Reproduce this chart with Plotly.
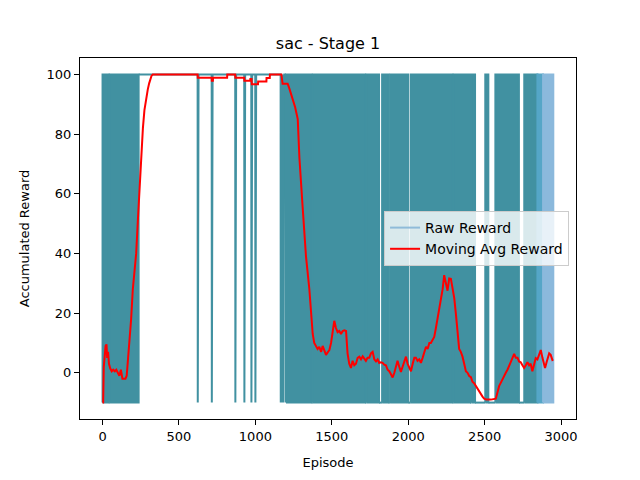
import plotly.graph_objects as go

n_episodes = 2950

# stretches where the raw reward flips between 100 and -10 so often that
# the line reads as a solid band in the picture
mixed_spans = [(0, 40), (47, 236), (1200, 1367), (1376, 1718), (1726, 1809),
               (1829, 1870), (1881, 2001), (2018, 2289), (2297, 2404),
               (2417, 2437), (2504, 2524), (2570, 2724), (2759, 2949)]
# the solved stretch (reward 100) and the few failed episodes inside it
success_run = (237, 1199)
failed_eps = [623, 715, 869, 928, 974, 1000, 1166, 1172, 1178, 1184]

# moving average (window 100)
ma_ep = [0, 4, 8, 14, 20, 26, 30, 36, 42, 50, 60, 70, 80, 90, 100, 110, 120,
         130, 140, 150, 158, 165, 176, 187, 198, 210, 220, 232, 242, 253, 264,
         274, 285, 296, 305, 312, 320, 329, 622, 623, 714, 715, 722, 723, 815,
         816, 868, 869, 927, 928, 966, 967, 975, 976, 1017, 1018, 1072, 1073,
         1094, 1095, 1170, 1178, 1211, 1222, 1244, 1260, 1277, 1288, 1309,
         1331, 1353, 1364, 1375, 1385, 1397, 1407, 1418, 1430, 1440, 1452,
         1462, 1475, 1484, 1495, 1505, 1516, 1527, 1538, 1549, 1560, 1571,
         1582, 1593, 1603, 1614, 1625, 1636, 1647, 1658, 1669, 1680, 1691,
         1702, 1712, 1723, 1734, 1745, 1756, 1767, 1778, 1789, 1800, 1810,
         1821, 1832, 1843, 1854, 1865, 1876, 1887, 1898, 1909, 1920, 1930,
         1941, 1952, 1963, 1974, 1985, 1996, 2007, 2018, 2029, 2040, 2050,
         2061, 2072, 2083, 2094, 2105, 2116, 2127, 2138, 2148, 2159, 2170,
         2181, 2192, 2203, 2214, 2225, 2235, 2246, 2257, 2268, 2279, 2290,
         2301, 2312, 2322, 2333, 2344, 2355, 2366, 2377, 2388, 2399, 2410,
         2420, 2431, 2442, 2453, 2464, 2475, 2486, 2497, 2510, 2540, 2573,
         2584, 2595, 2606, 2617, 2628, 2638, 2650, 2661, 2672, 2682, 2693,
         2704, 2715, 2725, 2736, 2747, 2758, 2769, 2780, 2791, 2801, 2812,
         2823, 2834, 2845, 2856, 2867, 2878, 2889, 2895, 2905, 2913, 2922,
         2932, 2943, 2949]
ma_val = [-10, -10, 2, 6, 9, 9.5, 5, 7, 3, 1.5, 0.5, 1, 0.5, 1, 0, -1, 1,
          -2, -2, -2, -1, 3, 9, 18, 28, 34, 40, 52, 63, 72, 82,
          88, 92, 95, 97, 98.6, 99.5, 100, 100, 98.9, 98.9, 97.9, 97.9, 98.9, 98.9,
          100, 100, 98.9, 98.9, 97.9, 97.9, 98.5, 98.5, 96.7, 96.7, 97.6, 97.6, 98.8,
          98.8, 100, 100, 96.9, 96.9, 95.3, 92, 89, 85, 72, 55.6,
          39, 28, 19.6, 13, 10, 8.7, 8, 8.7, 7, 9, 7,
          6, 7, 7.6, 10, 14, 17.4, 15, 13.6, 14, 13, 14,
          14.2, 14, 6.5, 3, 1.6, 4, 2.5, 3, 5, 5.4, 4.5,
          5.5, 4.9, 4, 5, 5, 6.5, 7, 4.5, 3.8, 4.5, 3.3,
          3.5, 3.3, 2.7, 2.5, 1, 0.5, -0.5, -1.6, 0, 2, 4,
          2, 0.3, 2, 4, 5.4, 3, 1.5, 0.5, 3, 5, 5,
          4, 4.5, 3.3, 5, 7, 8.7, 8, 10, 10, 11, 12,
          15, 18.5, 21, 24, 28, 32.7, 30, 27.5, 31.6, 31.5, 28.3,
          25, 19.6, 14.2, 8, 7, 5.4, 3, 0.5, 0, -1.1, -1.5,
          -3, -3.5, -4.5, -5, -6, -7, -8, -8.7, -9, -9, -8.7,
          -6.5, -4.4, -3.3, -2, -1, 0, 1.1, 2.5, 3.5, 5, 6.3,
          5, 5, 3.8, 3.5, 2.5, 1.6, 2.5, 3.5, 2.5, 3, 0.5,
          3, 4.9, 4.5, 6, 7.6, 5, 2.5, 1.6, 3.5, 5, 6.5,
          6, 4.3, 4.5]

x_ticks = [0, 500, 1000, 1500, 2000, 2500, 3000]
y_ticks = [0, 20, 40, 60, 80, 100]

raw_color = "#4191a1"
# the last episodes are drawn lighter in the reference
shades = [(0, "#4191a1"), (2845, "#55a6c7"), (2882, "#8bb9dc")]

raw_y = []
for ep in range(n_episodes):
    if any(a <= ep <= b for a, b in mixed_spans):
        raw_y.append(None)
    elif success_run[0] <= ep <= success_run[1] and ep not in failed_eps:
        raw_y.append(100)
    else:
        raw_y.append(-10)

fig = go.Figure()

fig.add_trace(go.Scatter(
    x=list(range(n_episodes)), y=raw_y, mode="lines",
    line=dict(color=raw_color, width=2), showlegend=False, hoverinfo="skip"))

for i, (start, col) in enumerate(shades):
    stop = shades[i + 1][0] if i + 1 < len(shades) else n_episodes
    bx, by = [], []
    for a, b in mixed_spans:
        lo, hi = max(a, start), min(b, stop)
        if lo >= hi:
            continue
        bx += [lo, hi, hi, lo, lo, None]
        by += [-10, -10, 100, 100, -10, None]
    fig.add_trace(go.Scatter(
        x=bx, y=by, mode="lines", fill="toself", fillcolor=col,
        line=dict(color=col, width=2), showlegend=False, hoverinfo="skip"))

# legend entry for the raw line (matplotlib shows it at alpha 0.5)
fig.add_trace(go.Scatter(x=[None], y=[None], mode="lines", name="Raw Reward",
                         line=dict(color="#8fbbd9", width=2)))
fig.add_trace(go.Scatter(x=ma_ep, y=ma_val, mode="lines",
                         name="Moving Avg Reward",
                         line=dict(color="red", width=2)))

axis_style = dict(showgrid=False, zeroline=False, showline=True, mirror=True,
                  linecolor="black", linewidth=1, ticks="outside", ticklen=5,
                  tickcolor="black", tickfont=dict(size=13, color="black"))

fig.update_layout(
    width=640, height=480, autosize=False,
    margin=dict(l=80, r=64, t=58, b=53),
    paper_bgcolor="white", plot_bgcolor="white",
    font=dict(family="DejaVu Sans", size=13, color="black"),
    title=dict(text="sac - Stage 1", x=0.5, xref="paper", y=0.91,
               yanchor="middle", font=dict(size=16)),
    legend=dict(x=0.986, y=0.5, xanchor="right", yanchor="middle",
                bgcolor="rgba(255,255,255,0.8)", bordercolor="#cccccc",
                borderwidth=1, font=dict(size=14)),
)
fig.update_xaxes(range=[-147.5, 3097.5], tickvals=x_ticks,
                 title=dict(text="Episode", font=dict(size=13)), **axis_style)
fig.update_yaxes(range=[-15.5, 105.5], tickvals=y_ticks,
                 title=dict(text="Accumulated Reward", font=dict(size=13),
                            standoff=14),
                 **axis_style)

fig.write_html("out.html", config={"displayModeBar": False},
               post_script="document.body.style.margin = '0';")
